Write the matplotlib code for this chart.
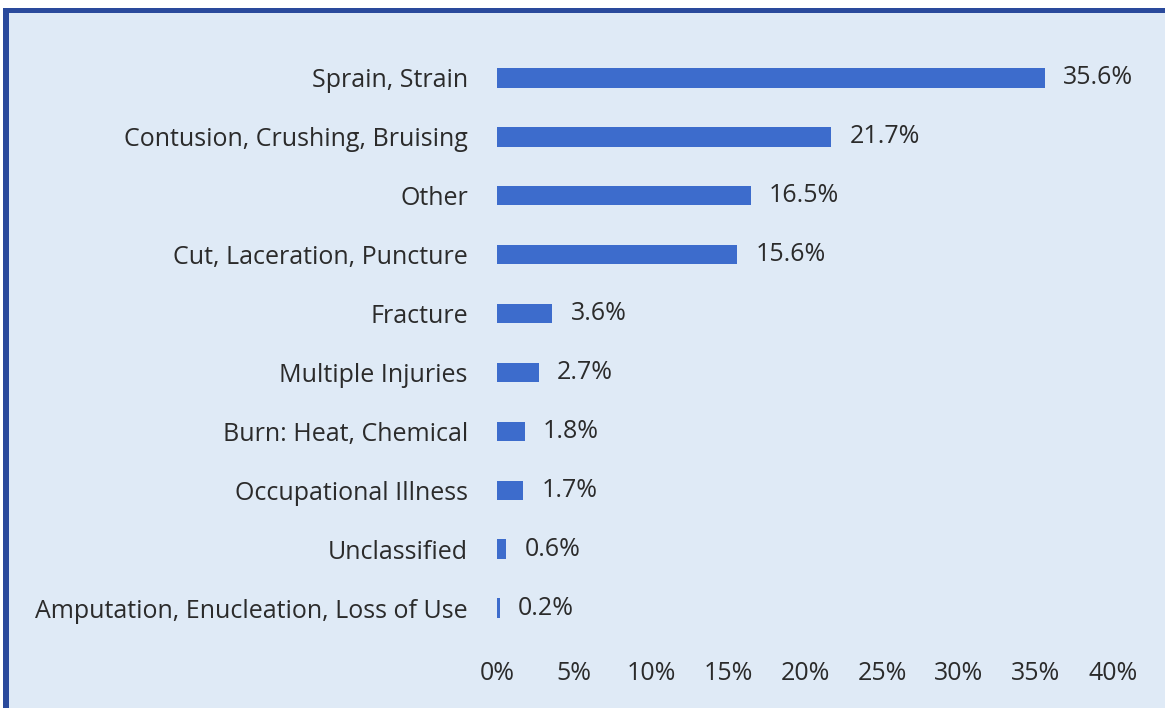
import matplotlib.pyplot as plt
from matplotlib.patches import Rectangle

categories = [
    "Sprain, Strain",
    "Contusion, Crushing, Bruising",
    "Other",
    "Cut, Laceration, Puncture",
    "Fracture",
    "Multiple Injuries",
    "Burn: Heat, Chemical",
    "Occupational Illness",
    "Unclassified",
    "Amputation, Enucleation, Loss of Use",
]
shares = [35.6, 21.7, 16.5, 15.6, 3.6, 2.7, 1.8, 1.7, 0.6, 0.2]
xticks = [0, 5, 10, 15, 20, 25, 30, 35, 40]

plt.rcParams['font.family'] = ['Open Sans', 'DejaVu Sans']
bg = '#dfeaf6'
bar_color = '#3d6ccc'
text_color = '#2b2b2b'
fs = 18

fig = plt.figure(figsize=(11.65, 7.08), dpi=100)
fig.patch.set_facecolor('white')

# panel background and the blue frame on top/left
fig.add_artist(Rectangle((3 / 1165, 0), 1, 1 - 8 / 708, transform=fig.transFigure,
                         facecolor=bg, edgecolor='none', zorder=0))
fig.add_artist(Rectangle((3 / 1165, 1 - 13 / 708), 1, 5 / 708, transform=fig.transFigure,
                         facecolor='#2a4a9c', edgecolor='none', zorder=1))
fig.add_artist(Rectangle((3 / 1165, 0), 6 / 1165, 1 - 8 / 708, transform=fig.transFigure,
                         facecolor='#2a4a9c', edgecolor='none', zorder=1))

ax = fig.add_axes([0.4266, 0.0996, 0.9554 - 0.4266, 0.9315 - 0.0996])
ax.set_facecolor('none')

pos = list(range(len(categories)))
ax.barh(pos, shares, height=0.33, color=bar_color)
for y, v in zip(pos, shares):
    ax.annotate(f"{v}%", (v, y), xytext=(13, 0), textcoords='offset points',
                va='center', ha='left', fontsize=fs, color=text_color)

ax.set_ylim(len(categories) - 0.5, -0.5)
ax.set_xlim(0, 40)
ax.set_yticks(pos)
ax.set_yticklabels(categories, fontsize=fs, color=text_color)
ax.set_xticks(xticks)
ax.set_xticklabels([f"{t}%" for t in xticks], fontsize=fs, color=text_color)
ax.tick_params(axis='y', length=0, pad=21)
ax.tick_params(axis='x', length=0, pad=17)
for s in ax.spines.values():
    s.set_visible(False)

fig.savefig('out.png', dpi=100, facecolor=fig.get_facecolor())
